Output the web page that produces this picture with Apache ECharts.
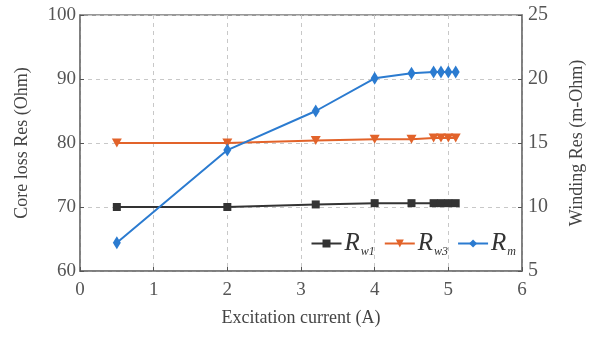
<!DOCTYPE html>
<html><head><meta charset="utf-8">
<script src="https://cdn.jsdelivr.net/npm/echarts@6/dist/echarts.min.js"></script>
<style>html,body{margin:0;padding:0;background:#fff}#c{width:589px;height:343px}</style>
</head><body><div id="c"></div>
<script>
const current = [0.5, 2, 3.2, 4, 4.5, 4.8, 4.9, 5.0, 5.1];
const rw1 = [10.0, 10.0, 10.2, 10.3, 10.3, 10.3, 10.3, 10.3, 10.3];
const rw3 = [15.0, 15.0, 15.2, 15.3, 15.3, 15.4, 15.4, 15.4, 15.4];
const rm = [64.4, 78.9, 85.0, 90.1, 90.9, 91.1, 91.1, 91.1, 91.1];
const xTicks = [0, 1, 2, 3, 4, 5, 6];
const leftTicks = [60, 70, 80, 90, 100];
const rightTicks = [5, 10, 15, 20, 25];

const font = 'Liberation Serif';
const pair = a => current.map((x, i) => [x, a[i]]);
const rich = {
  r: {fontFamily: font, fontStyle: 'italic', fontSize: 25, color: '#333'},
  s: {fontFamily: font, fontStyle: 'italic', fontSize: 12, color: '#333', padding: [16, 2, 0, 1]}
};
const chart = echarts.init(document.getElementById('c'));
chart.setOption({
  animation: false,
  grid: {left: 80, right: 67, top: 15, bottom: 72, show: true, borderColor: '#777', borderWidth: 1.5,
         containLabel: false, outerBoundsMode: 'none'},
  xAxis: {
    type: 'value', min: xTicks[0], max: xTicks[xTicks.length - 1], interval: 1,
    name: 'Excitation current (A)', nameLocation: 'middle', nameGap: 38,
    nameTextStyle: {fontFamily: font, fontSize: 18, color: '#444'},
    axisLine: {lineStyle: {color: '#777', width: 1.5}},
    axisTick: {inside: true, length: 4, lineStyle: {color: '#555'}},
    axisLabel: {fontFamily: font, fontSize: 19, color: '#555', margin: 10},
    splitLine: {show: true, lineStyle: {color: '#c8c8c8', type: [4, 4]}}
  },
  yAxis: [{
    type: 'value', min: leftTicks[0], max: leftTicks[leftTicks.length - 1], interval: 10,
    name: 'Core loss Res (Ohm)', nameLocation: 'middle', nameGap: 49,
    nameTextStyle: {fontFamily: font, fontSize: 18, color: '#444'},
    axisLine: {show: true, lineStyle: {color: '#777', width: 1.5}},
    axisTick: {show: true, inside: true, length: 4, lineStyle: {color: '#555'}},
    axisLabel: {fontFamily: font, fontSize: 19, color: '#555', margin: 4},
    splitLine: {show: true, lineStyle: {color: '#c8c8c8', type: [4, 4]}}
  }, {
    type: 'value', min: rightTicks[0], max: rightTicks[rightTicks.length - 1], interval: 5,
    position: 'right',
    name: 'Winding Res (m-Ohm)', nameLocation: 'middle', nameGap: 46,
    nameRotate: 90,
    nameTextStyle: {fontFamily: font, fontSize: 18, color: '#444'},
    axisLine: {show: true, lineStyle: {color: '#777', width: 1.5}},
    axisTick: {show: true, inside: true, length: 4, lineStyle: {color: '#555'}},
    axisLabel: {fontFamily: font, fontSize: 20, color: '#555', margin: 6},
    splitLine: {show: false}
  }],
  legend: {
    right: 68, top: 226, itemWidth: 30, itemHeight: 10, itemGap: 9,
    data: ['Rw1', 'Rw3', 'Rm'],
    formatter: n => n === 'Rm' ? '{r|R}{s|m}' : '{r|R}{s|' + n.slice(1) + '}',
    textStyle: {rich: rich, padding: [0, 0, 0, -2]}
  },
  series: [{
    name: 'Rw1', type: 'line', yAxisIndex: 1, data: pair(rw1),
    symbol: 'rect', symbolSize: 8,
    lineStyle: {color: '#333', width: 2}, itemStyle: {color: '#333'}
  }, {
    name: 'Rw3', type: 'line', yAxisIndex: 1, data: pair(rw3),
    symbol: 'triangle', symbolRotate: 180, symbolSize: [10, 9],
    lineStyle: {color: '#e2632a', width: 2}, itemStyle: {color: '#e2632a'}
  }, {
    name: 'Rm', type: 'line', yAxisIndex: 0, data: pair(rm),
    symbol: 'diamond', symbolSize: [8, 13],
    lineStyle: {color: '#2b7bd0', width: 2}, itemStyle: {color: '#2b7bd0'}
  }]
});
</script></body></html>
